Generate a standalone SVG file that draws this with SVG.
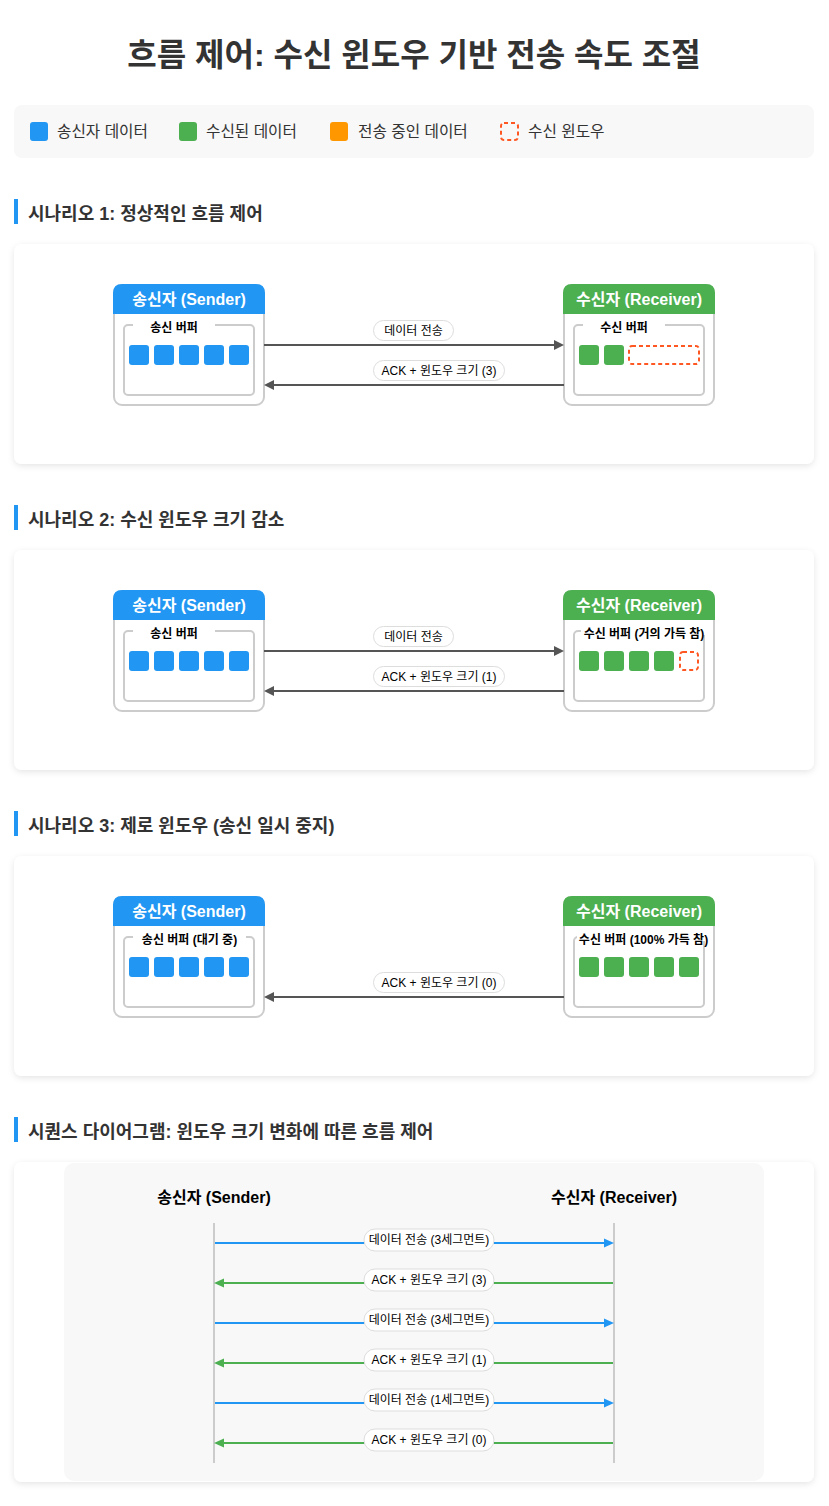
<svg xmlns="http://www.w3.org/2000/svg" width="829" height="1506" viewBox="0 0 829 1506">
<defs>
<style>
text{font-family:"Liberation Sans","Noto Sans CJK KR",sans-serif;}
.title{font-size:32px;font-weight:bold;fill:#333;}
.leg{font-size:15.7px;fill:#333;}
.h2{font-size:18px;font-weight:bold;fill:#333;}
.bar{fill:#2196F3;}
.panel{fill:#fff;filter:url(#sh);}
.node{fill:#fff;stroke:#ccc;stroke-width:2;}
.hdr{font-size:16px;font-weight:bold;fill:#fff;text-anchor:middle;}
.buf{fill:none;stroke:#ccc;stroke-width:2;}
.gap{fill:#fff;}
.bl{font-size:12px;font-weight:bold;fill:#000;text-anchor:middle;}
.sb{fill:#2196F3;}
.rb{fill:#4CAF50;}
.ob{fill:#FF9800;}
.win{fill:none;stroke:#FF5722;stroke-width:2;stroke-dasharray:4 3;}
.ln{stroke:#555;stroke-width:2;fill:none;}
.pill{fill:#fff;stroke:#ddd;stroke-width:1;}
.pt{font-size:12px;fill:#000;text-anchor:middle;}
.life{stroke:#ccc;stroke-width:2;}
.lblue{stroke:#2196F3;stroke-width:2;}
.lgreen{stroke:#4CAF50;stroke-width:2;}
.actor{font-size:16px;font-weight:bold;fill:#000;text-anchor:middle;}
</style>
<filter id="sh" x="-5%" y="-10%" width="110%" height="120%">
<feDropShadow dx="0" dy="2" stdDeviation="3" flood-color="#000" flood-opacity="0.1"/>
</filter>
<marker id="ag" viewBox="0 0 10 10" refX="2" refY="5" markerWidth="10" markerHeight="10" markerUnits="userSpaceOnUse" orient="auto"><path d="M0,0 L10,5 L0,10 Z" fill="#555"/></marker>
<marker id="ab" viewBox="0 0 10 10" refX="2" refY="5" markerWidth="10" markerHeight="10" markerUnits="userSpaceOnUse" orient="auto"><path d="M0,0.5 L10,5 L0,9.5 Z" fill="#2196F3"/></marker>
<marker id="agr" viewBox="0 0 10 10" refX="2" refY="5" markerWidth="10" markerHeight="10" markerUnits="userSpaceOnUse" orient="auto"><path d="M0,0.5 L10,5 L0,9.5 Z" fill="#4CAF50"/></marker>
</defs>
<rect width="829" height="1506" fill="#fff"/>

<text class="title" x="414" y="66" text-anchor="middle">흐름 제어: 수신 윈도우 기반 전송 속도 조절</text>

<g id="legend">
<rect x="14" y="105" width="800" height="53" rx="8" fill="#f8f8f8"/>
<rect class="sb" x="30" y="122" width="18" height="19" rx="3"/>
<text class="leg" x="57" y="137">송신자 데이터</text>
<rect class="rb" x="179" y="122" width="18" height="19" rx="3"/>
<text class="leg" x="206" y="137">수신된 데이터</text>
<rect class="ob" x="330" y="122" width="18" height="19" rx="3"/>
<text class="leg" x="358" y="137">전송 중인 데이터</text>
<rect class="win" x="501" y="123" width="17" height="17" rx="3"/>
<text class="leg" x="528" y="137">수신 윈도우</text>
</g>

<!-- Scenario 1 -->
<g id="heading1"><rect class="bar" x="14" y="199" width="4" height="25"/><text class="h2" x="28" y="220">시나리오 1: 정상적인 흐름 제어</text></g>
<rect class="panel" x="14" y="244" width="800" height="220" rx="8"/>
<g id="s1-sender">
<rect class="node" x="114" y="285" width="150" height="120" rx="8"/>
<path d="M113,314 V293 Q113,284 122,284 H256 Q265,284 265,293 V314 Z" fill="#2196F3"/>
<text class="hdr" x="189" y="305">송신자 (Sender)</text>
<rect class="buf" x="124" y="325" width="130" height="70" rx="4"/>
<rect class="gap" x="133" y="320" width="82" height="9"/>
<text class="bl" x="174" y="332">송신 버퍼</text>
<rect class="sb" x="129" y="345" width="20" height="20" rx="3"/>
<rect class="sb" x="154" y="345" width="20" height="20" rx="3"/>
<rect class="sb" x="179" y="345" width="20" height="20" rx="3"/>
<rect class="sb" x="204" y="345" width="20" height="20" rx="3"/>
<rect class="sb" x="229" y="345" width="20" height="20" rx="3"/>
</g>
<g id="s1-receiver">
<rect class="node" x="564" y="285" width="150" height="120" rx="8"/>
<path d="M563,314 V293 Q563,284 572,284 H706 Q715,284 715,293 V314 Z" fill="#4CAF50"/>
<text class="hdr" x="639" y="305">수신자 (Receiver)</text>
<rect class="buf" x="574" y="325" width="130" height="70" rx="4"/>
<rect class="gap" x="583" y="320" width="82" height="9"/>
<text class="bl" x="624" y="332">수신 버퍼</text>
<rect class="rb" x="579" y="345" width="20" height="20" rx="3"/>
<rect class="rb" x="604" y="345" width="20" height="20" rx="3"/>
<rect class="win" x="629" y="346" width="70" height="18" rx="3"/>
</g>
<g id="s1-connectors">
<line class="ln" x1="264" y1="345" x2="556" y2="345" marker-end="url(#ag)"/>
<rect class="pill" x="373.5" y="320.5" width="80" height="20" rx="10"/>
<text class="pt" x="413.5" y="335">데이터 전송</text>
<line class="ln" x1="564" y1="385" x2="272" y2="385" marker-end="url(#ag)"/>
<rect class="pill" x="373.5" y="360.5" width="131" height="20" rx="10"/>
<text class="pt" x="439" y="375">ACK + 윈도우 크기 (3)</text>
</g>

<!-- Scenario 2 -->
<g id="heading2"><rect class="bar" x="14" y="505" width="4" height="25"/><text class="h2" x="28" y="526">시나리오 2: 수신 윈도우 크기 감소</text></g>
<rect class="panel" x="14" y="550" width="800" height="220" rx="8"/>
<g id="s2-sender">
<rect class="node" x="114" y="591" width="150" height="120" rx="8"/>
<path d="M113,620 V599 Q113,590 122,590 H256 Q265,590 265,599 V620 Z" fill="#2196F3"/>
<text class="hdr" x="189" y="611">송신자 (Sender)</text>
<rect class="buf" x="124" y="631" width="130" height="70" rx="4"/>
<rect class="gap" x="133" y="626" width="82" height="9"/>
<text class="bl" x="174" y="638">송신 버퍼</text>
<rect class="sb" x="129" y="651" width="20" height="20" rx="3"/>
<rect class="sb" x="154" y="651" width="20" height="20" rx="3"/>
<rect class="sb" x="179" y="651" width="20" height="20" rx="3"/>
<rect class="sb" x="204" y="651" width="20" height="20" rx="3"/>
<rect class="sb" x="229" y="651" width="20" height="20" rx="3"/>
</g>
<g id="s2-receiver">
<rect class="node" x="564" y="591" width="150" height="120" rx="8"/>
<path d="M563,620 V599 Q563,590 572,590 H706 Q715,590 715,599 V620 Z" fill="#4CAF50"/>
<text class="hdr" x="639" y="611">수신자 (Receiver)</text>
<rect class="buf" x="574" y="631" width="130" height="70" rx="4"/>
<rect class="gap" x="581" y="626" width="125" height="9"/>
<text class="bl" x="644" y="638">수신 버퍼 (거의 가득 참)</text>
<rect class="rb" x="579" y="651" width="20" height="20" rx="3"/>
<rect class="rb" x="604" y="651" width="20" height="20" rx="3"/>
<rect class="rb" x="629" y="651" width="20" height="20" rx="3"/>
<rect class="rb" x="654" y="651" width="20" height="20" rx="3"/>
<rect class="win" x="680" y="652" width="18" height="18" rx="3"/>
</g>
<g id="s2-connectors">
<line class="ln" x1="264" y1="651" x2="556" y2="651" marker-end="url(#ag)"/>
<rect class="pill" x="373.5" y="626.5" width="80" height="20" rx="10"/>
<text class="pt" x="413.5" y="641">데이터 전송</text>
<line class="ln" x1="564" y1="691" x2="272" y2="691" marker-end="url(#ag)"/>
<rect class="pill" x="373.5" y="666.5" width="131" height="20" rx="10"/>
<text class="pt" x="439" y="681">ACK + 윈도우 크기 (1)</text>
</g>

<!-- Scenario 3 -->
<g id="heading3"><rect class="bar" x="14" y="811" width="4" height="25"/><text class="h2" x="28" y="832">시나리오 3: 제로 윈도우 (송신 일시 중지)</text></g>
<rect class="panel" x="14" y="856" width="800" height="220" rx="8"/>
<g id="s3-sender">
<rect class="node" x="114" y="897" width="150" height="120" rx="8"/>
<path d="M113,926 V905 Q113,896 122,896 H256 Q265,896 265,905 V926 Z" fill="#2196F3"/>
<text class="hdr" x="189" y="917">송신자 (Sender)</text>
<rect class="buf" x="124" y="937" width="130" height="70" rx="4"/>
<rect class="gap" x="133" y="932" width="113" height="9"/>
<text class="bl" x="189.5" y="944">송신 버퍼 (대기 중)</text>
<rect class="sb" x="129" y="957" width="20" height="20" rx="3"/>
<rect class="sb" x="154" y="957" width="20" height="20" rx="3"/>
<rect class="sb" x="179" y="957" width="20" height="20" rx="3"/>
<rect class="sb" x="204" y="957" width="20" height="20" rx="3"/>
<rect class="sb" x="229" y="957" width="20" height="20" rx="3"/>
</g>
<g id="s3-receiver">
<rect class="node" x="564" y="897" width="150" height="120" rx="8"/>
<path d="M563,926 V905 Q563,896 572,896 H706 Q715,896 715,905 V926 Z" fill="#4CAF50"/>
<text class="hdr" x="639" y="917">수신자 (Receiver)</text>
<rect class="buf" x="574" y="937" width="130" height="70" rx="4"/>
<rect class="gap" x="577" y="932" width="131" height="9"/>
<text class="bl" x="643.5" y="944">수신 버퍼 (100% 가득 참)</text>
<rect class="rb" x="579" y="957" width="20" height="20" rx="3"/>
<rect class="rb" x="604" y="957" width="20" height="20" rx="3"/>
<rect class="rb" x="629" y="957" width="20" height="20" rx="3"/>
<rect class="rb" x="654" y="957" width="20" height="20" rx="3"/>
<rect class="rb" x="679" y="957" width="20" height="20" rx="3"/>
</g>
<g id="s3-connectors">
<line class="ln" x1="564" y1="997" x2="272" y2="997" marker-end="url(#ag)"/>
<rect class="pill" x="373.5" y="972.5" width="131" height="20" rx="10"/>
<text class="pt" x="439" y="987">ACK + 윈도우 크기 (0)</text>
</g>

<!-- Sequence -->
<g id="heading4"><rect class="bar" x="14" y="1117" width="4" height="25"/><text class="h2" x="28" y="1138">시퀀스 다이어그램: 윈도우 크기 변화에 따른 흐름 제어</text></g>
<rect class="panel" x="14" y="1162" width="800" height="320" rx="8"/>
<rect x="64" y="1163" width="700" height="318" rx="10" fill="#f8f8f8"/>
<g id="seq-sender">
<text class="actor" x="214" y="1203">송신자 (Sender)</text>
<line class="life" x1="214" y1="1223" x2="214" y2="1463"/>
</g>
<g id="seq-receiver">
<text class="actor" x="614" y="1203">수신자 (Receiver)</text>
<line class="life" x1="614" y1="1223" x2="614" y2="1463"/>
</g>
<g id="seq-connectors">
<line class="lblue" x1="215" y1="1243" x2="606" y2="1243" marker-end="url(#ab)"/>
<rect class="pill" x="364" y="1229" width="130" height="22" rx="11"/>
<text class="pt" x="429" y="1244">데이터 전송 (3세그먼트)</text>
<line class="lgreen" x1="613" y1="1283" x2="222" y2="1283" marker-end="url(#agr)"/>
<rect class="pill" x="364" y="1269" width="130" height="22" rx="11"/>
<text class="pt" x="429" y="1284">ACK + 윈도우 크기 (3)</text>
<line class="lblue" x1="215" y1="1323" x2="606" y2="1323" marker-end="url(#ab)"/>
<rect class="pill" x="364" y="1309" width="130" height="22" rx="11"/>
<text class="pt" x="429" y="1324">데이터 전송 (3세그먼트)</text>
<line class="lgreen" x1="613" y1="1363" x2="222" y2="1363" marker-end="url(#agr)"/>
<rect class="pill" x="364" y="1349" width="130" height="22" rx="11"/>
<text class="pt" x="429" y="1364">ACK + 윈도우 크기 (1)</text>
<line class="lblue" x1="215" y1="1403" x2="606" y2="1403" marker-end="url(#ab)"/>
<rect class="pill" x="364" y="1389" width="130" height="22" rx="11"/>
<text class="pt" x="429" y="1404">데이터 전송 (1세그먼트)</text>
<line class="lgreen" x1="613" y1="1443" x2="222" y2="1443" marker-end="url(#agr)"/>
<rect class="pill" x="364" y="1429" width="130" height="22" rx="11"/>
<text class="pt" x="429" y="1444">ACK + 윈도우 크기 (0)</text>
</g>
</svg>
